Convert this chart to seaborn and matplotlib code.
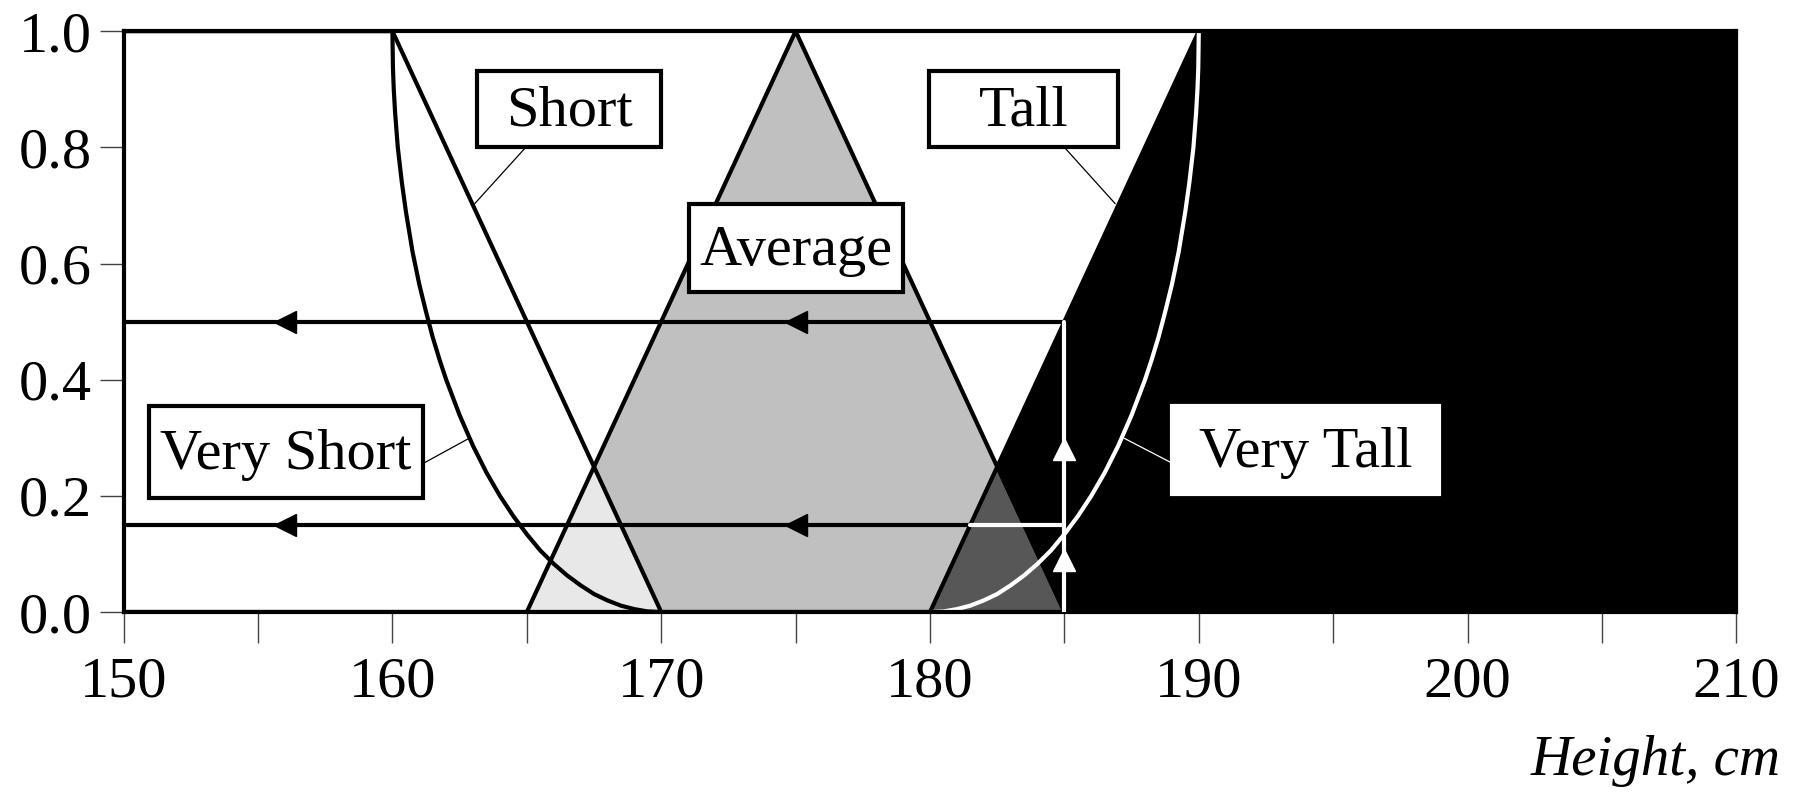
import numpy as np
import pandas as pd
import seaborn as sns
import matplotlib.pyplot as plt
from matplotlib.patches import Rectangle

# membership functions
heights = [150, 160, 165, 167.5, 170, 175, 180, 182.5, 185, 190, 210]
short = [1, 1, 0.5, 0.25, 0, 0, 0, 0, 0, 0, 0]
average = [0, 0, 0, 0.25, 0.5, 1, 0.5, 0.25, 0, 0, 0]
tall = [0, 0, 0, 0, 0, 0, 0, 0.25, 0.5, 1, 1]

very_short_x = [160, 160.02, 160.05, 160.1, 160.2, 160.35, 160.5, 160.75, 161, 161.25, 161.5,
                161.75, 162, 162.5, 163, 163.5, 164, 164.5, 165, 165.5, 166, 166.5, 167,
                167.5, 168, 168.5, 169, 169.5, 170]
very_short_y = [1.0, 0.937, 0.90, 0.86, 0.80, 0.74, 0.69, 0.62, 0.564, 0.517, 0.473,
                0.435, 0.40, 0.339, 0.286, 0.24, 0.20, 0.165, 0.134, 0.106, 0.083, 0.063, 0.046,
                0.031, 0.020, 0.011, 0.005, 0.001, 0]
very_tall_x = [180, 180.5, 181, 181.5, 182, 182.5, 183, 183.5, 184, 184.5, 185, 185.5, 186,
               186.5, 187, 187.5, 188, 188.25, 188.5, 188.75, 189, 189.25, 189.5, 189.65,
               189.8, 189.9, 189.95, 189.98, 190]
very_tall_y = [0, 0.001, 0.005, 0.011, 0.020, 0.031, 0.046, 0.063, 0.083, 0.106, 0.134,
               0.165, 0.20, 0.24, 0.286, 0.339, 0.40, 0.435, 0.473, 0.517, 0.564, 0.62,
               0.69, 0.74, 0.80, 0.86, 0.90, 0.937, 1.0]

# input height 185 cm -> degrees
x_input = 185
deg_high = 0.5
deg_low = 0.15
deg_low_cross = 181.5   # where 0.15 meets the Tall line

# label boxes: text, x0, x1, y0, y1
labels = [("Short", 163.15, 170.0, 0.801, 0.931),
          ("Tall", 179.96, 186.98, 0.801, 0.931),
          ("Average", 171.02, 178.98, 0.551, 0.703),
          ("Very Short", 150.94, 161.15, 0.197, 0.354),
          ("Very Tall", 189.02, 198.94, 0.203, 0.354)]
leaders = [((164.98, 0.801), (163.06, 0.703), 'black'),
           ((184.98, 0.801), (186.89, 0.703), 'black'),
           ((161.15, 0.256), (162.85, 0.299), 'black'),
           ((189.02, 0.256), (187.23, 0.299), 'white')]

df = pd.DataFrame({'height': heights, 'short': short, 'average': average, 'tall': tall})

sns.set_style('ticks')
plt.rcParams['font.family'] = ['Liberation Serif', 'DejaVu Serif']
plt.rcParams['text.color'] = 'black'
plt.rcParams['xtick.color'] = 'black'
plt.rcParams['ytick.color'] = 'black'
plt.rcParams['axes.labelcolor'] = 'black'

LW = 3.0

fig = plt.figure(figsize=(17.94, 7.99), dpi=100)
ax = fig.add_axes([0.0689, 0.234, 0.899, 0.727])

h = df['height'].values
ax.fill_between(h, 0, df['average'], color='#c0c0c0', lw=0, zorder=1)
ax.fill_between(h, 0, np.minimum(df['short'], df['average']), color='#e8e8e8', lw=0, zorder=2)
ax.fill_between(h, 0, df['tall'], color='black', lw=0, zorder=3)
ax.fill_between(h, 0, np.minimum(df['average'], df['tall']), color='#575757', lw=0, zorder=4)

for col in ['short', 'average', 'tall']:
    sns.lineplot(data=df, x='height', y=col, color='black', lw=LW, ax=ax, zorder=5)
sns.lineplot(x=very_short_x, y=very_short_y, color='black', lw=LW, ax=ax, zorder=5, sort=False)
sns.lineplot(x=very_tall_x, y=very_tall_y, color='white', lw=LW, ax=ax, zorder=6, sort=False)

# projection lines with arrows
ax.plot([150, x_input], [deg_high, deg_high], color='black', lw=LW, zorder=7)
ax.plot([150, deg_low_cross], [deg_low, deg_low], color='black', lw=LW, zorder=7)
ax.plot([deg_low_cross, x_input], [deg_low, deg_low], color='white', lw=LW, zorder=7)
ax.plot([x_input, x_input], [0, deg_high], color='white', lw=LW, zorder=7)
for yy in [deg_high, deg_low]:
    ax.plot([156, 175], [yy, yy], ls='none', marker='<', ms=16, color='black', zorder=8)
ax.plot([x_input, x_input], [0.089, 0.28], ls='none', marker='^', ms=16, color='white', zorder=8)

for txt, x0, x1, y0, y1 in labels:
    white = txt == "Very Tall"
    ax.add_patch(Rectangle((x0, y0), x1 - x0, y1 - y0, facecolor='white',
                           edgecolor='white' if white else 'black', lw=LW, zorder=9))
    ax.text((x0 + x1) / 2, (y0 + y1) / 2 - 0.005, txt, ha='center', va='center',
            fontsize=42, zorder=10)
for (xa, ya), (xb, yb), c in leaders:
    ax.plot([xa, xb], [ya, yb], color=c, lw=0.9, zorder=9)

ax.set_xlim(150, 210)
ax.set_ylim(0, 1)
ax.set_xticks(range(150, 211, 10))
ax.set_xticks(range(155, 210, 10), minor=True)
ax.set_yticks(np.arange(0, 1.01, 0.2))
ax.set_yticklabels([f"{v:.1f}" for v in np.arange(0, 1.01, 0.2)])
ax.tick_params(axis='x', which='both', direction='out', length=22, width=1, color='#444444',
               labelsize=42, pad=10)
ax.tick_params(axis='y', direction='out', length=17, width=1, color='#444444',
               labelsize=42, pad=6)
for s in ax.spines.values():
    s.set_linewidth(LW)
    s.set_color('black')
    s.set_zorder(6)
ax.set_ylabel('')
ax.set_xlabel('Height, cm', loc='right', fontsize=41, style='italic')
ax.xaxis.set_label_coords(1.0275, -0.212)

fig.savefig('out.png', dpi=100)
